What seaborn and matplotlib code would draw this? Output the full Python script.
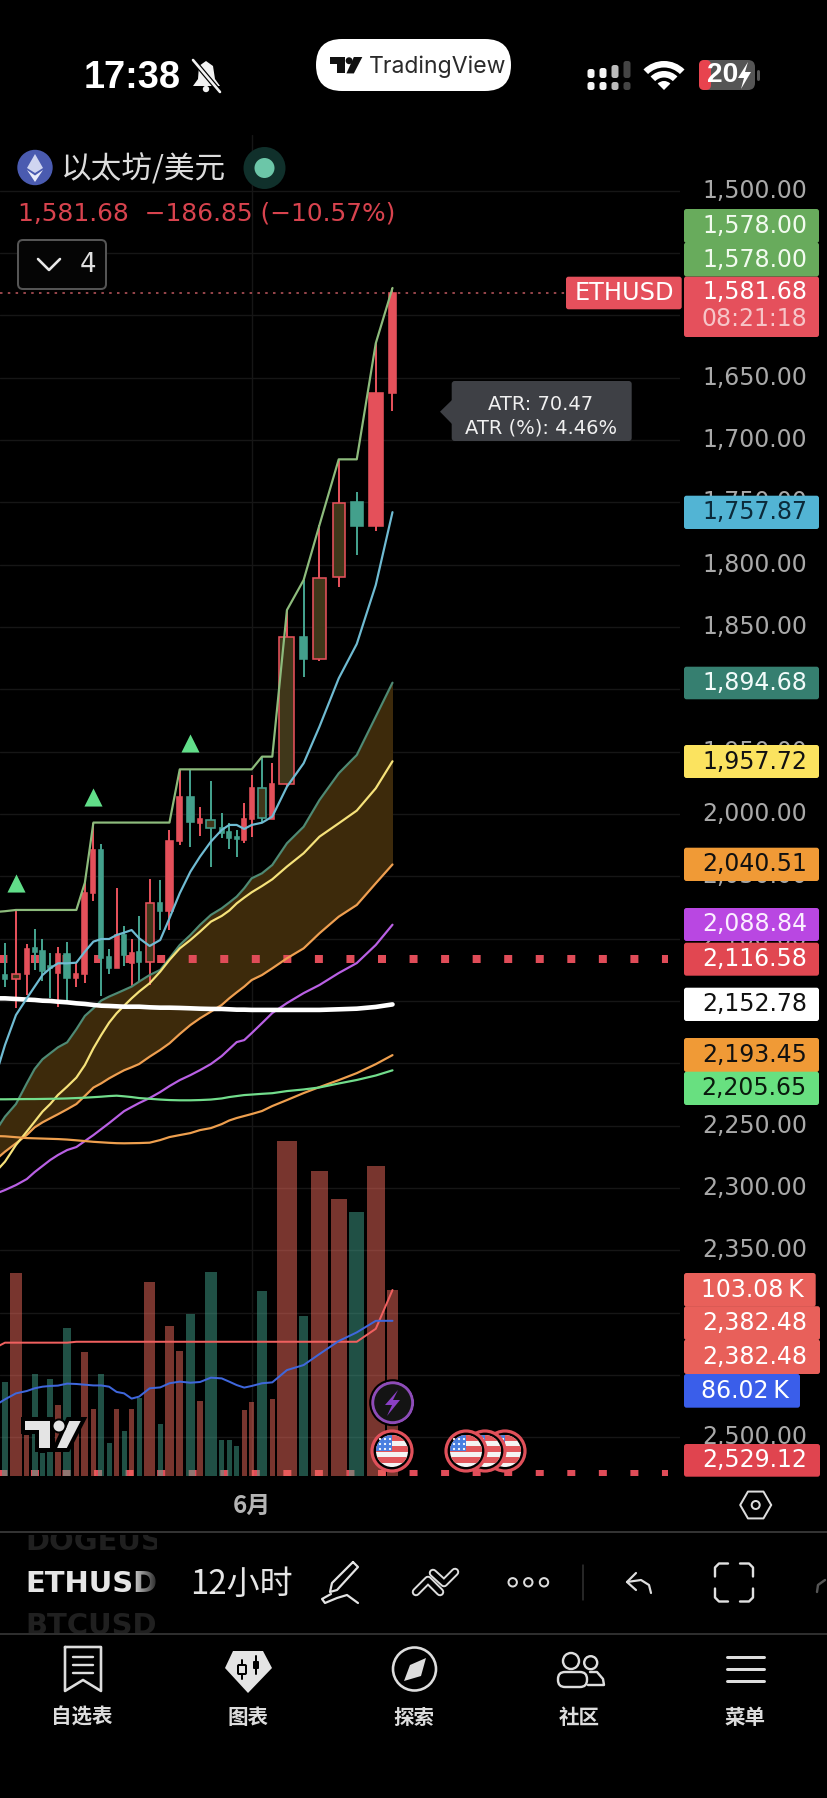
import matplotlib
matplotlib.use("Agg")
import numpy as np
import pandas as pd
import seaborn as sns
import matplotlib.pyplot as plt
from matplotlib.patches import Circle, FancyBboxPatch, Polygon, Rectangle, Wedge

# ---------- market data: one entry per 12h session, oldest first ----------
opens = [2125.0, 2129.2, 2132.6, 2128.6, 2107.8, 2109.9, 2121.9, 2127.3, 2112.6, 2131.8,
         2128.6, 2063.6, 2029.1, 2115.0, 2123.8, 2097.1, 2119.3, 2111.0, 2118.5, 2071.1,
         2077.8, 2021.7, 1986.6, 2006.9, 2004.8, 2011.5, 2014.7, 2018.7, 2020.9, 2004.3,
         1979.4, 2004.3, 1976.0, 1857.8, 1875.9, 1810.1, 1749.5, 1768.8, 1662.1]
closes = [2133.0, 2132.6, 2128.6, 2108.6, 2110.4, 2125.7, 2123.8, 2112.6, 2131.8, 2128.6,
          2063.1, 2029.1, 2115.8, 2123.8, 2097.1, 2113.1, 2111.8, 2118.5, 2071.1, 2077.8,
          2021.4, 1986.6, 2006.7, 2004.3, 2011.5, 2015.5, 2019.5, 2020.3, 2004.3, 1979.4,
          2003.5, 1976.2, 1857.8, 1875.9, 1810.9, 1750.3, 1768.8, 1662.1, 1581.68]
highs = [2110.0, 2103.2, 2077.0, 2104.3, 2092.5, 2100.3, 2111.8, 2107.0, 2102.4, 2119.8,
         2055.1, 2006.9, 2024.3, 2108.6, 2059.4, 2089.6, 2100.3, 2081.8, 2051.9, 2053.0,
         2012.8, 1964.7, 1964.2, 1994.1, 1973.5, 1999.5, 2007.5, 2012.8, 1991.4, 1968.7,
         1954.0, 1958.8, 1836.4, 1812.3, 1768.2, 1715.5, 1742.0, 1622.4, 1577.8]
lows = [2140.0, 2138.5, 2155.9, 2145.2, 2125.1, 2133.7, 2147.9, 2154.6, 2150.6, 2138.5,
        2135.3, 2069.5, 2146.0, 2128.6, 2123.8, 2121.9, 2138.5, 2134.5, 2137.2, 2093.1,
        2093.1, 2024.9, 2026.7, 2017.6, 2042.2, 2019.5, 2028.3, 2034.2, 2023.0, 2018.2,
        2006.9, 2004.3, 1978.1, 1889.9, 1877.1, 1817.7, 1792.3, 1772.8, 1676.5]
# sessions whose candle has the outlined, olive-filled body
outlined = [2, 18, 24, 30, 32, 34, 35]
volume_k = [45.0, 52.3, 112.7, 22.7, 56.3, 12.6, 53.9, 39.3, 82.0, 23.6,
            68.9, 36.9, 56.3, 18.5, 37.3, 25.1, 37.3, 43.0, 107.5, 28.8,
            83.1, 69.3, 89.8, 41.6, 113.2, 20.0, 20.0, 16.8, 36.4, 41.0,
            102.7, 42.7, 185.7, 88.7, 169.0, 153.7, 146.3, 171.8, 103.08]

channel_high = [2078.5, 2078.0, 2077.0, 2077.0, 2077.0, 2077.0, 2077.0, 2077.0, 2077.0, 2077.0,
                2055.1, 2006.9, 2006.9, 2006.9, 2006.9, 2006.9, 2006.9, 2006.9, 2006.9, 2006.9,
                2006.9, 1964.2, 1964.2, 1964.2, 1964.2, 1964.2, 1964.2, 1964.2, 1964.2, 1964.2,
                1954.0, 1954.0, 1836.4, 1812.3, 1768.2, 1715.5, 1715.5, 1622.4, 1578.0]
ma_blue = [2205.4, 2185.3, 2161.3, 2147.9, 2138.5, 2129.2, 2123.8, 2119.8, 2119.8, 2119.3,
           2110.4, 2102.4, 2100.3, 2100.3, 2097.1, 2095.2, 2093.1, 2099.7, 2105.9, 2101.1,
           2083.7, 2063.6, 2046.3, 2034.2, 2022.2, 2012.8, 2008.8, 2008.8, 2012.0, 2008.8,
           2007.0, 2002.1, 1978.1, 1959.3, 1929.9, 1891.2, 1863.6, 1816.3, 1757.87]
band_upper = [2252.2, 2242.8, 2232.7, 2216.1, 2204.6, 2196.8, 2192.0, 2187.2, 2183.2, 2172.7,
              2162.0, 2155.9, 2149.7, 2146.5, 2143.9, 2141.2, 2138.5, 2134.5, 2129.2, 2125.1,
              2115.8, 2105.1, 2097.1, 2089.0, 2081.0, 2075.7, 2071.1, 2066.3, 2059.6, 2051.6,
              2047.6, 2040.9, 2023.5, 2010.2, 1988.8, 1967.4, 1952.7, 1921.9, 1894.68]
band_mid = [2285.6, 2278.9, 2265.5, 2254.8, 2246.8, 2238.8, 2232.7, 2225.4, 2218.7, 2211.5,
            2201.4, 2188.0, 2177.3, 2167.4, 2159.9, 2153.8, 2147.9, 2142.5, 2135.8, 2126.5,
            2117.1, 2107.8, 2101.1, 2094.4, 2086.4, 2081.8, 2077.5, 2071.7, 2067.1, 2062.8,
            2057.8, 2052.4, 2042.2, 2031.5, 2018.2, 2007.5, 1997.3, 1979.4, 1957.72]
band_lower = [2276.2, 2270.9, 2264.2, 2257.5, 2251.4, 2247.4, 2244.1, 2240.9, 2236.9, 2232.7,
              2226.2, 2219.5, 2216.1, 2212.1, 2208.8, 2205.6, 2203.2, 2200.6, 2194.7, 2189.3,
              2184.0, 2176.5, 2169.3, 2163.9, 2158.6, 2153.2, 2147.9, 2143.1, 2138.5, 2133.2,
              2129.2, 2123.8, 2115.8, 2107.8, 2095.7, 2082.4, 2073.0, 2055.6, 2040.51]
ma_purple = [2304.1, 2301.7, 2297.7, 2292.9, 2287.3, 2282.4, 2277.6, 2273.6, 2269.6, 2267.2,
             2262.4, 2257.6, 2252.8, 2248.0, 2243.2, 2238.4, 2235.1, 2231.9, 2227.9, 2223.1,
             2218.3, 2213.5, 2209.5, 2205.5, 2200.6, 2194.2, 2188.6, 2183.0, 2181.4, 2175.8,
             2167.8, 2159.7, 2151.7, 2143.7, 2137.2, 2127.6, 2119.6, 2105.1, 2088.84]
ma_white = [2147.9, 2147.9, 2148.4, 2148.9, 2149.2, 2149.8, 2150.0, 2150.6, 2151.1, 2151.9,
            2152.4, 2153.2, 2153.8, 2154.0, 2154.3, 2154.6, 2154.6, 2154.6, 2155.1, 2155.4,
            2155.4, 2155.6, 2155.9, 2156.2, 2156.4, 2156.4, 2156.7, 2157.0, 2157.0, 2157.2,
            2157.2, 2157.2, 2157.2, 2157.2, 2157.2, 2156.7, 2156.2, 2154.8, 2152.78]
ma_orange = [2258.4, 2258.6, 2259.3, 2260.0, 2260.2, 2260.4, 2260.6, 2260.8, 2261.2, 2261.8,
             2262.4, 2263.0, 2263.4, 2263.8, 2264.1, 2264.2, 2264.1, 2264.0, 2263.7, 2261.6,
             2259.2, 2257.6, 2256.0, 2253.6, 2252.0, 2248.8, 2245.9, 2243.9, 2242.3, 2240.7,
             2238.3, 2234.3, 2229.5, 2223.9, 2219.1, 2213.5, 2207.9, 2200.7, 2193.45]
ma_green = [2228.9, 2228.9, 2228.8, 2228.7, 2228.7, 2228.6, 2228.5, 2228.4, 2228.2, 2227.9,
            2227.6, 2227.2, 2226.8, 2226.3, 2226.0, 2226.5, 2227.1, 2227.9, 2228.5, 2229.1,
            2229.5, 2229.7, 2229.7, 2229.5, 2229.1, 2228.2, 2227.1, 2226.3, 2225.5, 2225.1,
            2224.5, 2224.0, 2222.3, 2221.0, 2219.4, 2216.2, 2213.4, 2209.8, 2205.65]
volume_ma_k = [39.9, 42.5, 45.8, 47.1, 48.6, 49.5, 49.9, 50.1, 51.2, 51.0,
               50.6, 50.2, 50.2, 49.5, 46.6, 45.8, 42.9, 44.0, 48.6, 49.1,
               51.4, 52.3, 51.7, 52.1, 54.5, 54.1, 52.3, 50.4, 49.0, 49.9,
               51.4, 51.9, 58.7, 61.5, 67.6, 74.8, 79.6, 86.0, 86.02]
volume_peak_k = [71.7, 73.9, 73.9, 73.9, 73.9, 73.9, 73.9, 73.9, 73.9, 74.4,
                 74.4, 74.4, 74.4, 74.4, 74.4, 74.4, 74.4, 74.4, 74.4, 74.4,
                 74.4, 74.4, 74.4, 74.4, 74.4, 74.4, 74.4, 74.4, 74.4, 74.4,
                 74.4, 74.4, 74.4, 74.4, 74.4, 74.4, 74.4, 81.6, 103.08]
signal_sessions = [2, 11, 22]
signal_prices = [2055.6, 1986.1, 1943.3]

price_ticks = list(range(1500, 2501, 50))
# ticks whose label sits entirely behind a value tag stay unlabelled
tag_covered_ticks = [1550, 1600, 1900, 2150, 2200, 2400, 2450]
month_session = 29
month_label = "6月"
stop_level = 2116.58
lower_level = 2529.12
last_price = 1581.68
session_countdown = "08:21:18"
symbol_name = "以太坊/美元"
change_text = "1,581.68  −186.85 (−10.57%)"
atr_lines = ["ATR: 70.47", "ATR (%): 4.46%"]
volume_level = 2382.48
nav_labels = ["自选表", "图表", "探索", "社区", "菜单"]

# ---------- theme and figure ----------
PX = 0.72  # one output pixel in points at 100 dpi
W, H = 828, 1798
sns.set_theme(style="dark", rc={
    "figure.facecolor": "black", "axes.facecolor": "none", "savefig.facecolor": "black",
    "axes.edgecolor": "none", "lines.scale_dashes": False, "patch.force_edgecolor": False,
    "lines.solid_capstyle": "round", "lines.solid_joinstyle": "round"})
CJK = ["Noto Sans CJK SC", "DejaVu Sans"]
plt.rcParams["font.family"] = ["DejaVu Sans"]

fig = plt.figure(figsize=(W / 100, H / 100), dpi=100)


def px_rect(left, top, right, bottom):
    return [left / W, (H - bottom) / H, (right - left) / W, (bottom - top) / H]


ax = fig.add_axes(px_rect(0, 135, 680, 1476), zorder=1)
vol_ax = fig.add_axes(px_rect(0, 1100, 680, 1476), zorder=2)
hud = fig.add_axes([0, 0, 1, 1], zorder=5)
hud.set_xlim(0, W)
hud.set_ylim(H, 0)
hud.axis("off")

# Session widths follow traded volume, so the time axis is volume weighted.
vol = np.array(volume_k)
bar_w = np.maximum(5.2, 0.105 * vol)
candle_w = np.maximum(4.2, 0.82 * bar_w - 1.0)
gap = 2.3
bar_x = np.concatenate([[0.0], np.cumsum((bar_w[:-1] + bar_w[1:]) / 2 + gap)])
x_left = bar_x[-1] - 392.5

# ---------- price panel ----------
ax.set_xlim(x_left, x_left + 680)
ax.set_ylim(2531.1, 1455.3)
ax.set_yticks(price_ticks)
ax.set_yticklabels(["" if v in tag_covered_ticks else f"{v:,.2f}" for v in price_ticks],
                   fontsize=23.6 * PX, color="#a9a9a9", ha="right", va="center")
ax.yaxis.tick_right()
ax.tick_params(axis="y", length=0, pad=127 * PX)
ax.set_xticks([bar_x[month_session]])
ax.set_xticklabels([month_label], family=CJK, fontweight="bold", fontsize=24 * PX, color="#b4b4b4")
ax.tick_params(axis="x", length=0, pad=18 * PX)
ax.grid(True, color="#161616", lw=1.4 * PX)
ax.set_axisbelow(True)

# channel fill between the outer band lines
ax.fill_between(bar_x, band_upper, band_lower, color="#3d2a0b", lw=0, zorder=1.4)

# dotted price levels
RED = "#e4505a"
GREEN = "#43a08c"
for level in (stop_level, lower_level):
    ax.plot([x_left, x_left + 668], [level, level], color="#e04c58", lw=8 * PX, zorder=1.5,
            linestyle=(0.6 * PX, (8 * PX, 23.55 * PX)), dash_capstyle="butt")
ax.plot([x_left, x_left + 565], [last_price, last_price], color="#b9555c", lw=1.6 * PX, zorder=1.5,
        linestyle=(0, (2.5 * PX, 5.3 * PX)), dash_capstyle="butt")

# candles
o, c = np.array(opens), np.array(closes)
down = c < o
colors = np.where(down, RED, GREEN)
ax.vlines(bar_x, highs, lows, colors=colors, lw=2 * PX, zorder=3)
body_low = np.minimum(o, c)
body_h = np.abs(o - c)
faces = [("#40371a" if i in outlined else col) for i, col in enumerate(colors)]
ax.bar(bar_x, body_h, bottom=body_low, width=candle_w, color=faces, edgecolor=colors,
       linewidth=1.6 * PX, zorder=3.2)

# moving averages and channel
line_specs = [
    (band_upper, "#4f8a74", 2.2), (band_lower, "#ef9f50", 2.2), (band_mid, "#f6e27a", 2.2),
    (ma_purple, "#b960e4", 2.2), (ma_orange, "#ee9f4e", 2.2), (ma_green, "#72dd8c", 2.2),
    (ma_white, "#ffffff", 4.6), (ma_blue, "#6fbbd2", 2.2), (channel_high, "#8dbb7c", 2.2),
]
for values, col, width in line_specs:
    frame = pd.DataFrame({"pos": bar_x, "price": values})
    sns.lineplot(data=frame, x="pos", y="price", color=col, lw=width * PX, ax=ax,
                 estimator=None, sort=False, zorder=4)

signals = pd.DataFrame({"pos": bar_x[signal_sessions], "price": signal_prices})
sns.scatterplot(data=signals, x="pos", y="price", marker="^", s=170, color="#61de89",
                linewidth=0, ax=ax, zorder=5)
ax.set_xlabel("")
ax.set_ylabel("")

# ---------- volume panel ----------
vol_ax.set_xlim(x_left, x_left + 680)
vol_ax.set_ylim(0, 208.4)
vol_ax.set_xticks([])
vol_ax.set_yticks([])
vol_colors = np.where(down, "#f06a5c", "#41a08a")
vol_ax.bar(bar_x, vol, width=bar_w, color=vol_colors, alpha=0.5, linewidth=0, zorder=1)
for values, col in ((volume_peak_k, "#f0605f"), (volume_ma_k, "#3f67dc")):
    frame = pd.DataFrame({"pos": bar_x, "k": values})
    sns.lineplot(data=frame, x="pos", y="k", color=col, lw=2 * PX, ax=vol_ax,
                 estimator=None, sort=False, zorder=3)
vol_ax.set_xlabel("")
vol_ax.set_ylabel("")
vol_ax.grid(False)


# ---------- helpers for the application chrome ----------
def stroke(points, col="#e4e4e4", lw=2.2, z=6, **kw):
    xs, ys = zip(*points)
    hud.plot(xs, ys, color=col, lw=lw * PX, zorder=z, solid_capstyle="round", **kw)


def fill(points, col="#e4e4e4", z=6, **kw):
    hud.add_patch(Polygon(points, closed=True, facecolor=col, edgecolor="none", zorder=z, **kw))


def rbox(left, top, right, bottom, face, r=3, edge="none", lw=0, z=4):
    patch = FancyBboxPatch((left + r, top + r), right - left - 2 * r, bottom - top - 2 * r,
                           boxstyle=f"round,pad={r},rounding_size={r}", facecolor=face,
                           edgecolor=edge, linewidth=lw * PX, zorder=z)
    hud.add_patch(patch)
    return patch


def label(x, y, s, size, col="#ffffff", ha="center", z=7, **kw):
    return hud.text(x, y, s, fontsize=size * PX, color=col, ha=ha, va="center", zorder=z, **kw)


def tv_logo(x0, y0, k, col, edge=None):
    # two glyphs and a dot, defined on a 60 x 31 grid
    kw = {"edgecolor": edge, "linewidth": 4 * PX, "facecolor": col} if edge else {"facecolor": col, "edgecolor": "none"}
    shapes = [[(0, 0), (29, 0), (29, 31), (14, 31), (14, 13), (0, 13)],
              [(45, 0), (61, 0), (45, 31), (31, 31)]]
    for shape in shapes:
        pts = [(x0 + a * k, y0 + b * k) for a, b in shape]
        hud.add_patch(Polygon(pts, closed=True, zorder=6, **kw))
    hud.add_patch(Circle((x0 + 36 * k, y0 + 7 * k), 6.5 * k, zorder=7, facecolor=col,
                         edgecolor=edge if edge else "none", linewidth=2 * PX if edge else 0))


# ---------- axis tags ----------
tag_texts = [f"{channel_high[-1]:,.2f}", f"{channel_high[-1]:,.2f}", f"{ma_blue[-1]:,.2f}",
             f"{band_upper[-1]:,.2f}", f"{band_mid[-1]:,.2f}", f"{band_lower[-1]:,.2f}",
             f"{ma_purple[-1]:,.2f}", f"{stop_level:,.2f}", f"{ma_white[-1]:,.2f}",
             f"{ma_orange[-1]:,.2f}", f"{ma_green[-1]:,.2f}",
             f"{volume_k[-1]:.2f}\u2009K", f"{volume_level:,.2f}", f"{volume_level:,.2f}",
             f"{volume_ma_k[-1]:.2f}\u2009K", f"{lower_level:,.2f}"]
tag_tops = [209, 242.5, 495.7, 666.7, 745, 847.7, 908, 942.7, 987.7, 1038, 1071.7, 1273, 1306.2, 1339.5, 1374, 1444]
tag_bottoms = [243, 276.5, 529, 699.3, 778, 881, 941, 975.7, 1021, 1072, 1105, 1306.7, 1340, 1374, 1407.7, 1476.7]
tag_rights = [819] * 11 + [815.7, 820, 820, 800, 820]
tag_text_right = [807] * 11 + [804, 807, 807, 789, 807]
tag_faces = ["#68ab5c", "#68ab5c", "#52b4d4", "#367f70", "#fbe35f", "#f09a36", "#b947e2", "#e14751",
             "#ffffff", "#f09a36", "#68e080", "#e8605a", "#e8605a", "#e8605a", "#3a5eea", "#e0444f"]
tag_inks = ["#f2fbef", "#f2fbef", "#0b2a3a", "#f2fbfa", "#111111", "#111111", "#fbeeff", "#ffffff",
            "#111111", "#111111", "#0a1a0d", "#ffffff", "#ffffff", "#ffffff", "#ffffff", "#ffffff"]
for i, text in enumerate(tag_texts):
    rbox(684, tag_tops[i], tag_rights[i], tag_bottoms[i], tag_faces[i], r=2.5, z=4 + i * 0.01)
    label(tag_text_right[i], (tag_tops[i] + tag_bottoms[i]) / 2, text, 23.6, tag_inks[i], ha="right")

rbox(684, 276.5, 819, 337, "#e5505c", r=2.5)
label(807, 292, f"{last_price:,.2f}", 23.6, "#ffffff", ha="right")
label(807, 319, session_countdown, 23.6, "#f6c5c8", ha="right")
rbox(566, 276.7, 681.7, 309.3, "#e5505c", r=2.5)
label(624, 293, "ETHUSD", 24, "#ffffff")

# ---------- ATR tooltip ----------
fill([(452, 400), (440, 411.7), (452, 424)], "#3e4045", z=6)
rbox(451.7, 381, 631.7, 441, "#3e4045", r=3, z=6)
label(540.7, 404, atr_lines[0], 19.5, "#f0f0f0")
label(540.7, 427.5, atr_lines[1], 19.5, "#f0f0f0")

# ---------- event markers ----------
hud.add_patch(Circle((392.7, 1402.7), 20, facecolor="#141414", edgecolor="#8d4cb8", lw=3 * PX, zorder=6))
hud.add_patch(Circle((392.7, 1402.7), 22.5, facecolor="none", edgecolor="black", lw=2 * PX, zorder=6))
fill([(398, 1390), (385, 1405), (392, 1405), (387, 1416), (400, 1400), (393, 1400)], "#8a3fc4", z=7)


def flag(cx, cy, z):
    hud.add_patch(Circle((cx, cy), 20, facecolor="black", edgecolor="#e0505a", lw=3.2 * PX, zorder=z))
    disc = Circle((cx, cy), 16, facecolor="#f4f4f4", edgecolor="none", zorder=z + 0.01)
    hud.add_patch(disc)
    for dy in (-16, -5, 6):
        bar = Rectangle((cx - 17, cy + dy), 34, 5.5, facecolor="#e2575c", zorder=z + 0.02)
        hud.add_patch(bar)
        bar.set_clip_path(disc)
    canton = Rectangle((cx - 17, cy - 17), 17, 17, facecolor="#4a7fe0", zorder=z + 0.03)
    hud.add_patch(canton)
    canton.set_clip_path(disc)
    for a in (-12, -7, -2):
        for b in (-12, -7, -2):
            hud.add_patch(Circle((cx + a, cy + b), 1.1, facecolor="white", zorder=z + 0.04))


flag(505, 1451, 6.0)
flag(485, 1451, 6.1)
flag(466, 1451, 6.2)
flag(392, 1451, 6.3)

tv_logo(23, 1419, 1.0, "#e4e4e4", edge="black")

# ---------- status bar ----------
label(132.5, 78, "17:38", 38, "#ffffff", fontweight="bold", family="Liberation Sans")
fill([(206, 61), (213, 66), (215, 79), (220, 86), (193, 86), (198, 79), (199, 66)], "#f2f2f2")
hud.add_patch(Circle((206, 89), 3.2, facecolor="#f2f2f2", zorder=6))
stroke([(193, 60), (220, 92)], "black", lw=5, z=6.5)
stroke([(193, 60), (220, 92)], "#f2f2f2", lw=2.6, z=6.6)

rbox(316, 39, 511, 91, "#ffffff", r=26)
tv_logo(330, 57, 0.53, "#111111")
label(438, 67, "TradingView", 23, "#2a2a2a", family="Inter")

for col_x, top, shade in ((591, 69, "#f5f5f5"), (603, 68, "#f5f5f5"), (615, 65, "#bbbbbb"), (627, 61, "#444444")):
    rbox(col_x - 3.5, top, col_x + 3.5, 78, shade, r=2.5, z=6)
    rbox(col_x - 3.5, 82, col_x + 3.5, 90, shade, r=2.5, z=6)
for outer, width in ((29, 6.5), (19, 6.5), (9, 9)):
    hud.add_patch(Wedge((664, 90), outer, 225, 315, width=width, facecolor="#ffffff", zorder=6))
rbox(699, 60, 755, 90, "#555555", r=7, z=5.5)
rbox(699, 60, 711, 90, "#e8434e", r=5, z=5.6)
stroke([(758, 71), (758, 79)], "#555555", lw=3)
label(723, 75, "20", 28, "#ffffff", fontweight="bold", family="Liberation Sans")
fill([(748, 62), (738, 78), (744, 78), (741, 89), (751, 72), (745, 72)], "#ffffff")

# ---------- legend header ----------
hud.add_patch(Circle((35, 167.5), 17.7, facecolor="#4a5bb0", zorder=6))
fill([(35, 154), (43, 168), (35, 173), (27, 168)], "#cfd5f0", z=7)
fill([(35, 175.5), (43, 170), (35, 182), (27, 170)], "#e8ebfa", z=7)
label(61, 170, symbol_name, 30.7, "#dddddd", ha="left", family=CJK)
hud.add_patch(Circle((264.5, 168), 21, facecolor="#10302b", zorder=6))
hud.add_patch(Circle((264.5, 168), 10, facecolor="#6cc6a8", zorder=7))
label(18, 213, change_text, 24.9, "#d8434e", ha="left")
rbox(18, 240, 106, 289, "#050505", r=5, edge="#555555", lw=2, z=6)
stroke([(38, 259), (49, 270), (60, 259)], "#e8e8e8", lw=2.6, z=7)
label(88, 265, "4", 26, "#e0e0e0")

# ---------- toolbar ----------
hud.plot([0, W], [1531.7, 1531.7], color="#333333", lw=2 * PX, zorder=4)
hud.plot([0, W], [1634, 1634], color="#3a3a3a", lw=1.6 * PX, zorder=4)
hex_pts = [(755.7 + 15.5 * np.cos(a), 1505 + 15.5 * np.sin(a)) for a in np.radians(np.arange(0, 361, 60))]
stroke(hex_pts, "#dddddd", lw=2)
hud.add_patch(Circle((755.7, 1505), 4, facecolor="none", edgecolor="#dddddd", lw=2 * PX, zorder=6))

symbol_clip = Rectangle((20, 1535), 137, 98, transform=hud.transData)
for sym, y, col in (("DOGEUSD", 1541.7, "#202020"), ("ETHUSD", 1584, "#e6e6e6"), ("BTCUSD", 1626, "#202020")):
    t = label(25, y, sym, 29, col, ha="left", fontweight="bold")
    t.set_clip_on(True)
    t.set_clip_path(symbol_clip)
fade = np.zeros((1, 30, 4))
fade[0, :, 3] = np.linspace(0, 0.85, 30)
hud.imshow(fade, extent=(130, 158, 1600, 1566), aspect="auto", zorder=7.5, interpolation="bilinear")
hud.set_xlim(0, W)
hud.set_ylim(H, 0)
label(190, 1584, "12小时", 33, "#e6e6e6", ha="left", fontweight="medium", family=CJK)

stroke([(353, 1562), (358, 1567), (337, 1590), (330, 1592), (332, 1583), (353, 1562)])
stroke([(331, 1594), (322, 1599), (325, 1603), (337, 1598), (347, 1595), (358, 1603)])
for strand in ([(416, 1592), (428, 1580), (440, 1592)], [(433, 1573), (444, 1583), (455, 1572)]):
    stroke(strand, "#dddddd", lw=8.5, z=6)
    stroke(strand, "black", lw=4.6, z=6.1)
for cx in (512.7, 528.3, 544):
    hud.add_patch(Circle((cx, 1582.3), 4.2, facecolor="none", edgecolor="#dddddd", lw=2 * PX, zorder=6))
hud.plot([583.3, 583.3], [1565, 1600], color="#333333", lw=1.5 * PX, zorder=5)
stroke([(636, 1573), (627, 1582), (636, 1590)], "#dddddd")
stroke([(627, 1582), (641, 1580), (649, 1585), (651, 1593)], "#dddddd")
for a, b, d, e in ((728, 1563.5, -1, 1), (740, 1563.5, 1, 1), (728, 1601.5, -1, -1), (740, 1601.5, 1, -1)):
    x_end = a + d * 13
    stroke([(a, b), (x_end - d * 4, b), (x_end, b + e * 4), (x_end, b + e * 13)], "#e0e0e0", lw=2.4)
stroke([(817, 1592), (818, 1585), (825, 1580)], "#555555", lw=2.4)

# ---------- bottom navigation ----------
for cx, text in zip((82, 248, 414, 579, 745), nav_labels):
    label(cx, 1717, text, 20.5, "#dcdcdc", fontweight="bold", family=CJK)
stroke([(65, 1647), (101, 1647), (101, 1691), (83, 1680), (65, 1691), (65, 1647)], "#dddddd", lw=2.6)
for y in (1657, 1665, 1673):
    stroke([(73, y), (93, y)], "#dddddd", lw=2.4)
fill([(233, 1651), (263, 1651), (272, 1668), (248, 1693), (225, 1668)], "#e4e4e4")
stroke([(242, 1660), (242, 1679)], "black", lw=2, z=7)
rbox(238, 1665, 246, 1674, "#e4e4e4", r=1, edge="black", lw=2, z=7)
stroke([(256, 1656), (256, 1674)], "black", lw=2, z=7)
rbox(253, 1661, 259, 1669, "black", r=1, z=7)
hud.add_patch(Circle((414.5, 1669), 21.5, facecolor="none", edgecolor="#dddddd", lw=2.6 * PX, zorder=6))
fill([(426, 1658), (421, 1676), (404, 1681), (410, 1665)], "#dddddd")
hud.add_patch(Circle((571, 1661), 8, facecolor="none", edgecolor="#dddddd", lw=2.4 * PX, zorder=6))
hud.add_patch(Circle((590.7, 1662.7), 6.5, facecolor="none", edgecolor="#dddddd", lw=2.4 * PX, zorder=6))
rbox(558, 1672, 587, 1687, "black", r=7, edge="#dddddd", lw=2.4, z=6)
stroke([(590, 1672), (597, 1672), (603, 1679), (604, 1685), (588, 1685)], "#dddddd", lw=2.4)
for y in (1657, 1669, 1681):
    stroke([(727, y), (764, y)], "#dddddd", lw=3)

fig.savefig("out.png", dpi=100)
